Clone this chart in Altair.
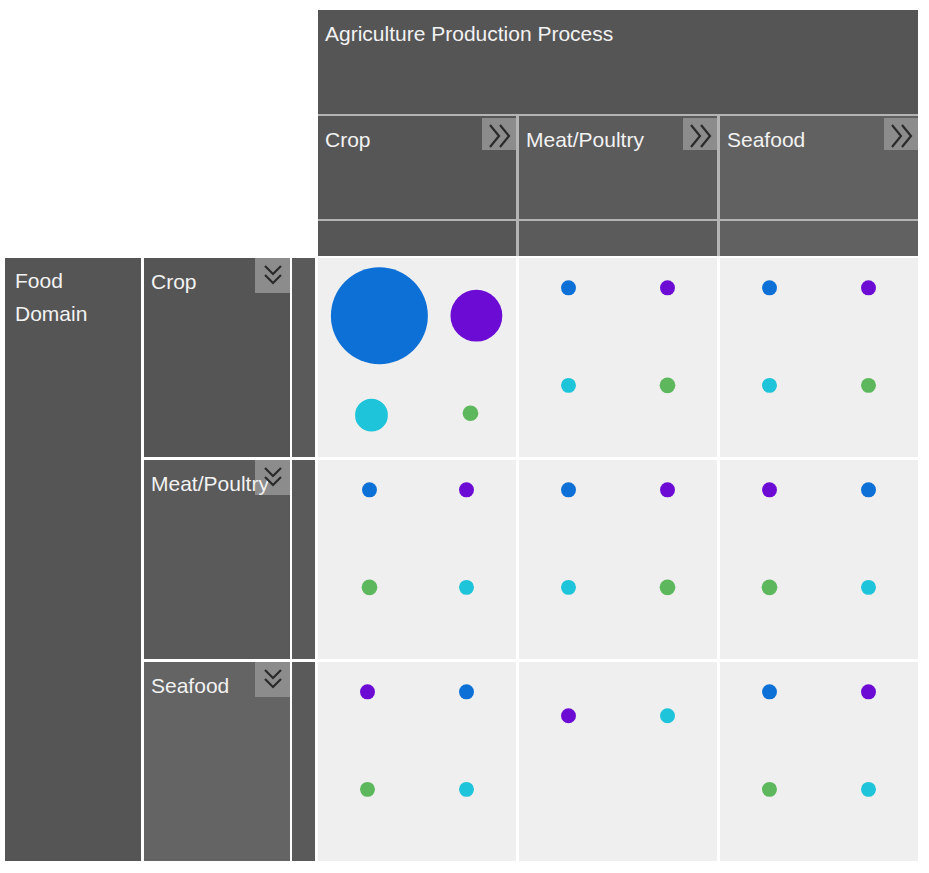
import altair as alt
import pandas as pd

# ---------------- data ----------------
processes = ["Crop", "Meat/Poultry", "Seafood"]          # columns
domains = ["Crop", "Meat/Poultry", "Seafood"]            # rows
col_title = "Agriculture Production Process"
row_title = ["Food", "Domain"]

groups = ["blue", "purple", "cyan", "green"]
group_colors = ["#0c70d6", "#6c0bd4", "#1ec4d9", "#5db85d"]

# one entry per bubble
bub_row = (["Crop"] * 12 + ["Meat/Poultry"] * 12 + ["Seafood"] * 10)
bub_col = (["Crop"] * 4 + ["Meat/Poultry"] * 4 + ["Seafood"] * 4
           + ["Crop"] * 4 + ["Meat/Poultry"] * 4 + ["Seafood"] * 4
           + ["Crop"] * 4 + ["Meat/Poultry"] * 2 + ["Seafood"] * 4)
bub_group = ["blue", "purple", "cyan", "green",
             "blue", "purple", "cyan", "green",
             "blue", "purple", "cyan", "green",
             "blue", "purple", "green", "cyan",
             "blue", "purple", "cyan", "green",
             "purple", "blue", "green", "cyan",
             "purple", "blue", "green", "cyan",
             "purple", "cyan",
             "blue", "purple", "green", "cyan"]
bub_fx = [0.31, 0.80, 0.27, 0.77,
          0.25, 0.75, 0.25, 0.75,
          0.25, 0.75, 0.25, 0.75,
          0.26, 0.75, 0.26, 0.75,
          0.25, 0.75, 0.25, 0.75,
          0.25, 0.75, 0.25, 0.75,
          0.25, 0.75, 0.25, 0.75,
          0.25, 0.75,
          0.25, 0.75, 0.25, 0.75]
bub_fy = [0.29, 0.29, 0.79, 0.78,
          0.15, 0.15, 0.64, 0.64,
          0.15, 0.15, 0.64, 0.64,
          0.15, 0.15, 0.64, 0.64,
          0.15, 0.15, 0.64, 0.64,
          0.15, 0.15, 0.64, 0.64,
          0.15, 0.15, 0.64, 0.64,
          0.27, 0.27,
          0.15, 0.15, 0.64, 0.64]
bub_value = [42, 12, 4.8, 1.1,
             1.0, 1.0, 1.0, 1.1,
             1.0, 1.0, 1.0, 1.0,
             1.0, 1.0, 1.1, 1.0,
             1.0, 1.0, 1.0, 1.1,
             1.0, 1.0, 1.1, 1.0,
             1.0, 1.0, 1.0, 1.0,
             1.0, 1.0,
             1.0, 1.0, 1.0, 1.0]

# ---------------- layout ----------------
W, H = 929, 873
grid_left, grid_top = 318, 258
cell_w, cell_h, gap = 198, 199, 3
col_x0 = [grid_left + i * (cell_w + gap) for i in range(3)]
row_y0 = [grid_top + i * (cell_h + gap) for i in range(3)]
grid_right = col_x0[-1] + cell_w
grid_bottom = row_y0[-1] + cell_h

col_head_fill = ["#565656", "#5b5b5b", "#616161"]
row_head_fill = ["#555555", "#5a5a5a", "#646464"]
btn_fill = "#8c8c8c"

rects = []
# header backing (light separators)
rects.append(dict(x=grid_left, x2=grid_right, y=10, y2=256, fill="#b4b4b4"))
# top title box
rects.append(dict(x=grid_left, x2=grid_right, y=10, y2=114, fill="#555555"))
for i in range(3):
    rects.append(dict(x=col_x0[i], x2=col_x0[i] + cell_w, y=116, y2=219, fill=col_head_fill[i]))
    rects.append(dict(x=col_x0[i], x2=col_x0[i] + cell_w, y=221, y2=256, fill=col_head_fill[i]))
    rects.append(dict(x=col_x0[i] + cell_w - 34, x2=col_x0[i] + cell_w, y=118, y2=150, fill=btn_fill))
# left boxes
rects.append(dict(x=5, x2=141, y=grid_top, y2=grid_bottom, fill="#555555"))
for j in range(3):
    rects.append(dict(x=144, x2=290, y=row_y0[j], y2=row_y0[j] + cell_h, fill=row_head_fill[j]))
    rects.append(dict(x=292, x2=315, y=row_y0[j], y2=row_y0[j] + cell_h, fill="#5a5a5a"))
    rects.append(dict(x=255, x2=290, y=row_y0[j], y2=row_y0[j] + 35, fill=btn_fill))
# cells
for j in range(3):
    for i in range(3):
        rects.append(dict(x=col_x0[i], x2=col_x0[i] + cell_w, y=row_y0[j], y2=row_y0[j] + cell_h, fill="#efefef"))
rect_df = pd.DataFrame(rects)

texts = [dict(x=grid_left + 7, y=35, t=col_title)]
for i, p in enumerate(processes):
    texts.append(dict(x=col_x0[i] + 7, y=141, t=p))
texts.append(dict(x=15, y=282, t=row_title[0]))
texts.append(dict(x=15, y=315, t=row_title[1]))
for j, d in enumerate(domains):
    texts.append(dict(x=151, y=row_y0[j] + 25, t=d))
text_df = pd.DataFrame(texts)

# double-chevron glyphs on the expand buttons
chev = []
cid = 0
for i in range(3):
    bx = col_x0[i] + cell_w - 34
    for k in range(2):
        ox = bx + 8 + 10 * k
        for o, (dx, dy) in enumerate([(0, 125), (9, 136), (0, 147)]):
            chev.append(dict(x=ox + dx, y=dy, cid=cid, o=o))
        cid += 1
for j in range(3):
    by = row_y0[j]
    for k in range(2):
        oy = by + 8 + 9 * k
        for o, (dx, dy) in enumerate([(265, 0), (273, 8), (281, 0)]):
            chev.append(dict(x=dx, y=oy + dy, cid=cid, o=o))
        cid += 1
chev_df = pd.DataFrame(chev)

bub = pd.DataFrame(dict(row=bub_row, col=bub_col, group=bub_group,
                        fx=bub_fx, fy=bub_fy, value=bub_value))
bub["px"] = [col_x0[processes.index(c)] + f * cell_w for c, f in zip(bub["col"], bub["fx"])]
bub["py"] = [row_y0[domains.index(r)] + f * cell_h for r, f in zip(bub["row"], bub["fy"])]

xs = alt.Scale(domain=[0, W], nice=False, zero=False)
ys = alt.Scale(domain=[0, H], nice=False, zero=False, reverse=True)

rect_layer = alt.Chart(rect_df).mark_rect().encode(
    x=alt.X("x:Q", scale=xs, axis=None), x2="x2:Q",
    y=alt.Y("y:Q", scale=ys, axis=None), y2="y2:Q",
    color=alt.Color("fill:N", scale=None),
)

text_layer = alt.Chart(text_df).mark_text(
    align="left", baseline="middle", font="Liberation Sans", fontSize=21, color="#f2f2f2"
).encode(
    x=alt.X("x:Q", scale=xs, axis=None), y=alt.Y("y:Q", scale=ys, axis=None), text="t:N"
)

chev_layer = alt.Chart(chev_df).mark_line(color="#2a2a2a", strokeWidth=2.2).encode(
    x=alt.X("x:Q", scale=xs, axis=None), y=alt.Y("y:Q", scale=ys, axis=None),
    detail="cid:N", order="o:Q",
)

bubble_layer = alt.Chart(bub).mark_circle(opacity=1).encode(
    x=alt.X("px:Q", scale=xs, axis=None),
    y=alt.Y("py:Q", scale=ys, axis=None),
    size=alt.Size("value:Q", scale=alt.Scale(domain=[0, 42], range=[0, 9400], zero=True), legend=None),
    color=alt.Color("group:N", scale=alt.Scale(domain=groups, range=group_colors), legend=None),
)

chart = alt.layer(rect_layer, text_layer, chev_layer, bubble_layer).properties(
    width=W, height=H, padding=0, autosize=alt.AutoSizeParams(type="none"), background="white"
).configure_view(stroke=None)

chart.save("out.html", embed_options={"renderer": "svg", "actions": False})
